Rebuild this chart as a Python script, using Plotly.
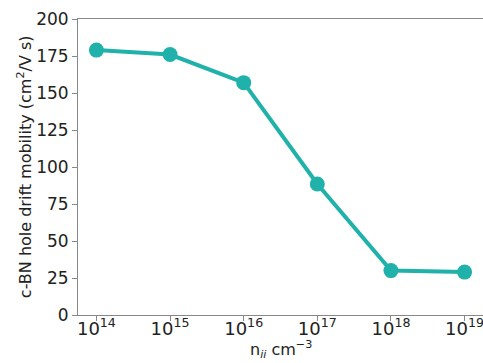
import plotly.graph_objects as go

# Ionized-impurity concentration (cm^-3) and hole drift mobility (cm^2/V s)
n_ii = [1e14, 1e15, 1e16, 1e17, 1e18, 1e19]
mobility = [179, 176, 157, 88.5, 30, 29]
tick_vals = [1e14, 1e15, 1e16, 1e17, 1e18, 1e19]
tick_text = ["10<sup>14</sup>", "10<sup>15</sup>", "10<sup>16</sup>",
             "10<sup>17</sup>", "10<sup>18</sup>", "10<sup>19</sup>"]
x_title = "n<sub><i>ii</i></sub> cm<sup>−3</sup>"
y_title = "c-BN hole drift mobility (cm<sup>2</sup>/V s)"

color = "#20b2aa"
font = dict(family="DejaVu Sans", size=15, color="#222222")
spine = "#888888"

fig = go.Figure(go.Scatter(
    x=n_ii, y=mobility, mode="lines+markers",
    line=dict(color=color, width=4),
    marker=dict(color=color, size=15),
    showlegend=False,
))

fig.update_layout(
    width=483, height=363,
    margin=dict(l=78, r=0, t=19, b=48),
    paper_bgcolor="white", plot_bgcolor="white",
    font=font,
)
fig.update_xaxes(
    type="log", range=[13.75, 19.25],
    tickvals=tick_vals, ticktext=tick_text,
    tickfont=dict(size=18), ticklabeloverflow="allow",
    ticklabelstandoff=-8,
    ticks="outside", ticklen=5, tickcolor=spine,
    showgrid=False, zeroline=False,
    showline=True, linecolor=spine, linewidth=1, mirror=True,
)
fig.update_yaxes(
    range=[0, 200], tickvals=[0, 25, 50, 75, 100, 125, 150, 175, 200],
    tickfont=dict(size=17),
    ticks="outside", ticklen=5, tickcolor=spine,
    showgrid=False, zeroline=False,
    showline=True, linecolor=spine, linewidth=1, mirror=True,
)

# Axis titles placed as paper-anchored annotations
fig.add_annotation(text=x_title, xref="paper", yref="paper",
                   x=0.5, y=-0.162, xanchor="center", yanchor="bottom",
                   showarrow=False, font=dict(size=16))
fig.add_annotation(text=y_title, xref="paper", yref="paper",
                   x=-0.133, y=0.5, xanchor="center", yanchor="middle",
                   textangle=-90, showarrow=False, font=dict(size=16))

fig.write_html("out.html")
